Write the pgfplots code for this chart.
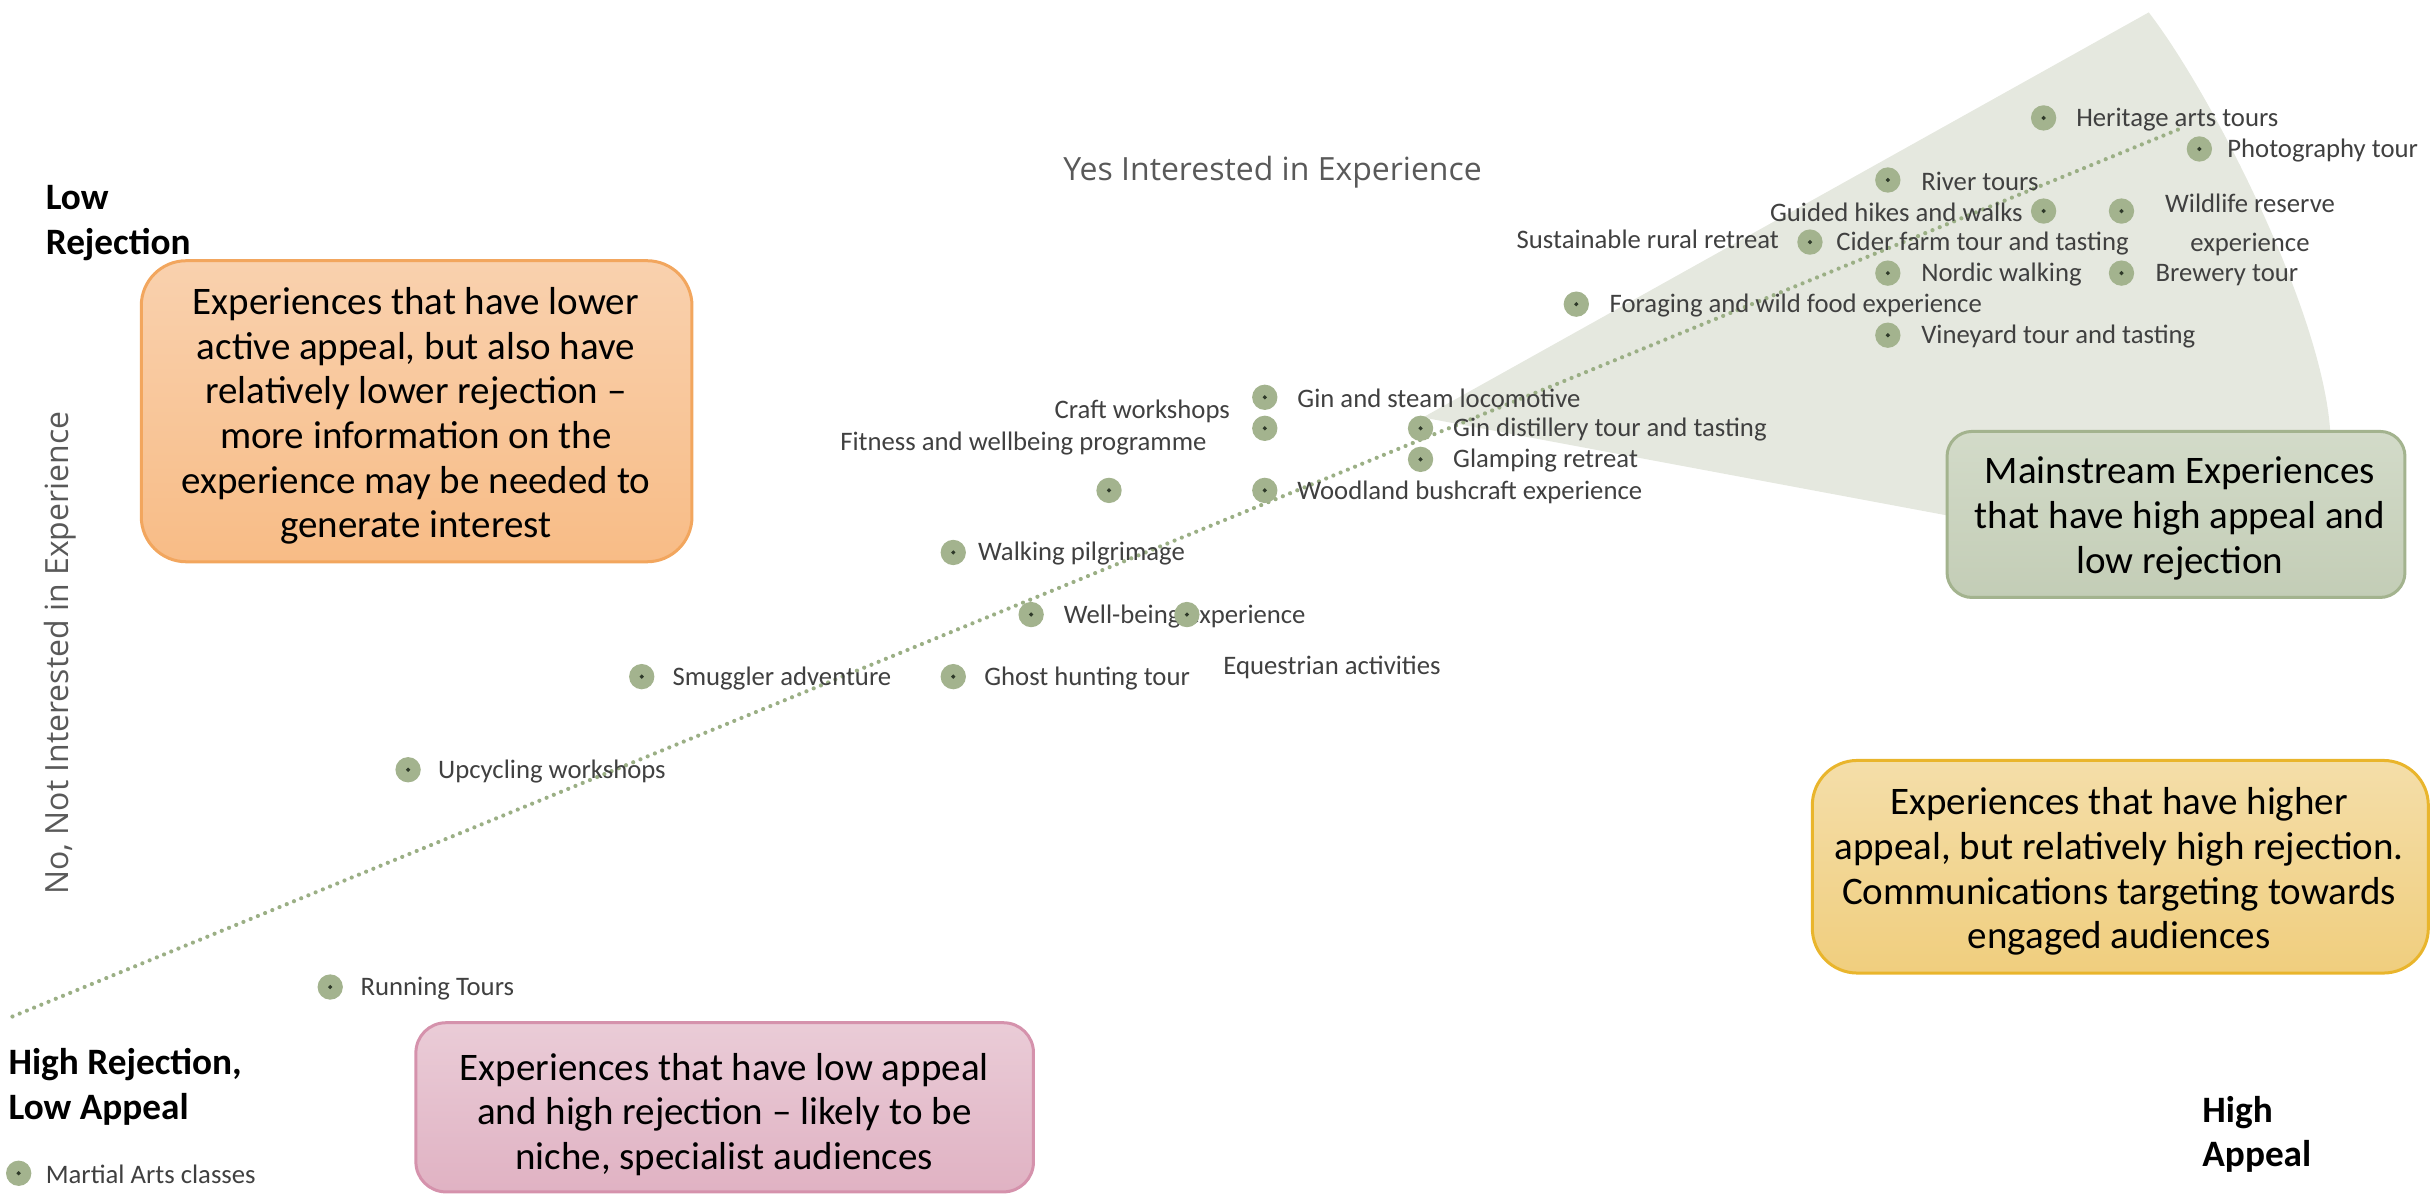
\documentclass[border=0pt]{standalone}
\usepackage{fontspec}
\setmainfont{Carlito}
\newfontfamily\osans{Open Sans}
\usepackage{pgfplots}
\pgfplotsset{compat=1.18}
\definecolor{mk}{HTML}{A3B38E}
\definecolor{mkdot}{HTML}{2F3A2A}
\definecolor{trend}{HTML}{9BAF85}
\definecolor{wedge}{HTML}{E5E8DF}
\definecolor{lbl}{HTML}{404040}
\definecolor{ttl}{HTML}{595959}
\definecolor{orT}{HTML}{F9D1AE}\definecolor{orB}{HTML}{F8BC86}\definecolor{orD}{HTML}{F2A65E}
\definecolor{grT}{HTML}{D3DBC9}\definecolor{grB}{HTML}{C3CDB6}\definecolor{grD}{HTML}{A3B38E}
\definecolor{ylT}{HTML}{F4DEA9}\definecolor{ylB}{HTML}{F0CE7E}\definecolor{ylD}{HTML}{E9B52C}
\definecolor{pkT}{HTML}{EACCD7}\definecolor{pkB}{HTML}{E0B2C3}\definecolor{pkD}{HTML}{D592AC}
\pgfplotstableread{
x y
0 0
4 6
5 13
8 16
12 16
12 20
13 18
14 22
15 18
16 22
16 24
16 25
18 23
18 24
20 28
23 30
24 27
24 29
24 32
26 31
26 34
27 29
27 31
28 33
}\pts
\begin{document}
\begin{tikzpicture}
\begin{axis}[width=24.33cm,height=11.95cm,scale only axis,hide axis,clip=false,
  xmin=-0.24,xmax=31.0,ymin=-0.7,ymax=37.8]
% mainstream wedge
\fill[wedge] (axis cs:18.03,24.35) -- (axis cs:27.35,37.4)
  .. controls (axis cs:28.15,34.8) and (axis cs:29.58,27.8) .. (axis cs:29.68,23.9)
  -- (axis cs:29.44,19.0) -- cycle;
% trend line
\addplot[trend, line width=0.42mm, line cap=round, dash pattern=on 0pt off 0.78mm] coordinates {(-0.08,5.05) (27.8,33.7)};
% boxes
\path[draw=orD, top color=orT, bottom color=orB, rounded corners=4.5mm, line width=0.3mm]
  (axis cs:1.574,29.4) rectangle (axis cs:8.645,19.7);
\path[draw=grD, top color=grT, bottom color=grB, rounded corners=2.5mm, line width=0.3mm]
  (axis cs:24.76,23.9) rectangle (axis cs:30.64,18.55);
\path[draw=ylD, top color=ylT, bottom color=ylB, rounded corners=4.5mm, line width=0.3mm]
  (axis cs:23.03,13.3) rectangle (axis cs:30.94,6.45);
\path[draw=pkD, top color=pkT, bottom color=pkB, rounded corners=3mm, line width=0.3mm]
  (axis cs:5.10,4.85) rectangle (axis cs:13.03,-0.6);
\node[align=center, font=\fontsize{11.1}{12.7}\selectfont] at (axis cs:5.10,24.4)
  {Experiences that have lower\\active appeal, but also have\\relatively lower rejection --\\more information on the\\experience may be needed to\\generate interest};
\node[align=center, font=\fontsize{11.1}{12.7}\selectfont] at (axis cs:27.75,21.1)
  {Mainstream Experiences\\that have high appeal and\\low rejection};
\node[align=center, font=\fontsize{11.1}{12.7}\selectfont] at (axis cs:26.97,9.72)
  {Experiences that have higher\\appeal, but relatively high rejection.\\Communications targeting towards\\engaged audiences};
\node[align=center, font=\fontsize{11.1}{12.7}\selectfont] at (axis cs:9.06,1.9)
  {Experiences that have low appeal\\and high rejection -- likely to be\\niche, specialist audiences};
% points
\addplot[only marks, mark=*, mark size=3.4pt, mark options={fill=mk, draw=mk}] table[x=x,y=y] {\pts};
\addplot[only marks, mark=*, mark size=0.35pt, mark options={fill=mkdot, draw=mkdot}] table[x=x,y=y] {\pts};
% labels
\begin{scope}[every node/.style={font=\fontsize{7.6}{9}\selectfont, text=lbl, inner sep=0pt, yshift=-0.15mm}]
\node[anchor=west] at (axis cs:0.339,0) {Martial Arts classes};
\node[anchor=west] at (axis cs:4.382,6) {Running Tours};
\node[anchor=west] at (axis cs:5.378,13) {Upcycling workshops};
\node[anchor=west] at (axis cs:8.386,16) {Smuggler adventure};
\node[anchor=west] at (axis cs:12.39,16) {Ghost hunting tour};
\node[anchor=west] at (axis cs:15.46,16.35) {Equestrian activities};
\node[anchor=west] at (axis cs:13.41,18) {Well-being experience};
\node[anchor=west] at (axis cs:12.31,20) {Walking pilgrimage};
\node[anchor=west] at (axis cs:16.41,22) {Woodland bushcraft experience};
\node[anchor=east] at (axis cs:15.26,23.55) {Fitness and wellbeing programme};
\node[anchor=east] at (axis cs:15.56,24.6) {Craft workshops};
\node[anchor=west] at (axis cs:18.41,23) {Glamping retreat};
\node[anchor=west] at (axis cs:18.41,24) {Gin distillery tour and tasting};
\node[anchor=west] at (axis cs:16.41,25) {Gin and steam locomotive};
\node[anchor=west] at (axis cs:20.42,28) {Foraging and wild food experience};
\node[anchor=west] at (axis cs:24.42,27) {Vineyard tour and tasting};
\node[anchor=west] at (axis cs:24.42,29) {Nordic walking};
\node[anchor=west] at (axis cs:27.43,29) {Brewery tour};
\node[anchor=west] at (axis cs:23.33,30) {Cider farm tour and tasting};
\node[anchor=east] at (axis cs:22.61,30.15) {Sustainable rural retreat};
\node[anchor=east] at (axis cs:25.74,31) {Guided hikes and walks};
\node[align=center, font=\fontsize{7.6}{11.2}\selectfont] at (axis cs:28.65,30.6) {Wildlife reserve\\experience};
\node[anchor=west] at (axis cs:24.42,32) {River tours};
\node[anchor=west] at (axis cs:28.35,33) {Photography tour};
\node[anchor=west] at (axis cs:26.41,34) {Heritage arts tours};
\end{scope}
% axis titles
\node[font=\osans\fontsize{9.1}{11}\selectfont, text=ttl] at (axis cs:16.10,32.25) {Yes Interested in Experience};
\node[font=\osans\fontsize{9.1}{11}\selectfont, text=ttl, rotate=90] at (axis cs:0.53,16.75) {No, Not Interested in Experience};
% corner labels
\node[anchor=west, align=left, inner sep=0pt, font=\bfseries\fontsize{10.6}{12.7}\selectfont] at (axis cs:0.339,30.62) {Low\\Rejection};
\node[anchor=west, align=left, inner sep=0pt, font=\bfseries\fontsize{10.6}{12.7}\selectfont] at (axis cs:-0.139,2.78) {High Rejection,\\Low Appeal};
\node[anchor=west, align=left, inner sep=0pt, font=\bfseries\fontsize{10.6}{12.7}\selectfont] at (axis cs:28.03,1.25) {High\\Appeal};
\coordinate (bbsw) at (rel axis cs:0,0);
\coordinate (bbne) at (rel axis cs:1,1);
\end{axis}
\pgfresetboundingbox
\path[use as bounding box] (bbsw) rectangle (bbne);
\end{tikzpicture}
\end{document}
